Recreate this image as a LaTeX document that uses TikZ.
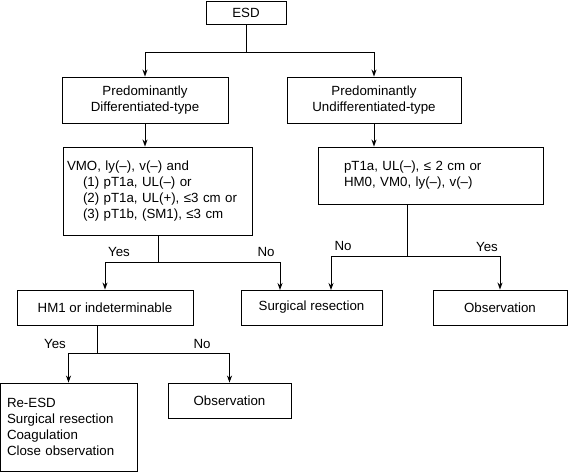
\documentclass[tikz,border=0pt]{standalone}
\usepackage{fontspec}
\setmainfont{Liberation Sans}
\usetikzlibrary{arrows.meta}
\begin{document}
\begin{tikzpicture}[x=1pt,y=-1pt,
  every node/.style={font=\fontsize{13.3}{16}\selectfont},
  box/.style={draw, line width=0.9pt, inner sep=0pt, align=center},
  lbox/.style={draw, line width=0.9pt, inner ysep=0pt, align=left},
  lab/.style={inner sep=0pt},
  line/.style={line width=0.9pt},
  arr/.style={line width=0.9pt, -{Stealth[length=7pt,width=5pt]}}]
\useasboundingbox (0,0) rectangle (568,472);
% boxes
\node[box, minimum width=80pt, minimum height=23pt] (esd) at (246,12.5) {ESD};
\node[box, minimum width=166pt, minimum height=46pt] (pd) at (145,100) {Predominantly\\Differentiated-type};
\node[box, minimum width=174pt, minimum height=46pt] (pu) at (374,100) {Predominantly\\Undifferentiated-type};
\node[lbox, inner xsep=4pt, text width=181pt, minimum height=88pt] (vmo) at (157.5,191)
  {VMO, ly(–), v(–) and\\\hspace*{16pt}(1) pT1a, UL(–) or\\\hspace*{16pt}(2) pT1a, UL(+), ≤3 cm or\\\hspace*{16pt}(3) pT1b, (SM1), ≤3 cm};
\node[lbox, inner xsep=26pt, text width=173pt, minimum height=57pt] (uc) at (430.5,175.5)
  {pT1a, UL(–), ≤ 2 cm or\\HM0, VM0, ly(–), v(–)};
\node[box, minimum width=176pt, minimum height=35pt] (hm1) at (105,307.5) {HM1 or indeterminable};
\node[box, minimum width=141pt, minimum height=35pt] (sr) at (311.5,307.5) {Surgical resection};
\node[box, minimum width=134pt, minimum height=35pt] (obs1) at (500,307.5) {Observation};
\node[lbox, inner xsep=7pt, text width=123pt, minimum height=88pt] (re) at (68.5,427)
  {Re-ESD\\Surgical resection\\Coagulation\\Close observation};
\node[box, minimum width=123pt, minimum height=35pt] (obs2) at (229.5,400.5) {Observation};
% junction coordinates
\coordinate (j1) at (246,52);
\coordinate (j2) at (158,262);
\coordinate (j3) at (407,256);
\coordinate (j4) at (97,353);
\coordinate (tsr1) at (280,290);
\coordinate (tsr2) at (331,290);
% connectors
\draw[line] (esd.south) -- (j1);
\draw[arr] (j1) -| (pd.north);
\draw[arr] (j1) -| (pu.north);
\draw[arr] (pd.south) -- (pd.south |- vmo.north);
\draw[arr] (pu.south) -- (pu.south |- uc.north);
\draw[line] (j2 |- vmo.south) -- (j2);
\draw[arr] (j2) -| (hm1.north);
\draw[arr] (j2) -| (tsr1);
\draw[line] (j3 |- uc.south) -- (j3);
\draw[arr] (j3) -| (tsr2);
\draw[arr] (j3) -| (obs1.north);
\draw[line] (j4 |- hm1.south) -- (j4);
\draw[arr] (j4) -| (re.north);
\draw[arr] (j4) -| (obs2.north);
% labels
\node[lab] (y1) at (119,252) {Yes};
\node[lab] (n1) at (266,252) {No};
\node[lab] (n2) at (343,246) {No};
\node[lab] (y2) at (487,247) {Yes};
\node[lab] (y3) at (55,344) {Yes};
\node[lab] (n3) at (202,344) {No};
\end{tikzpicture}
\end{document}
